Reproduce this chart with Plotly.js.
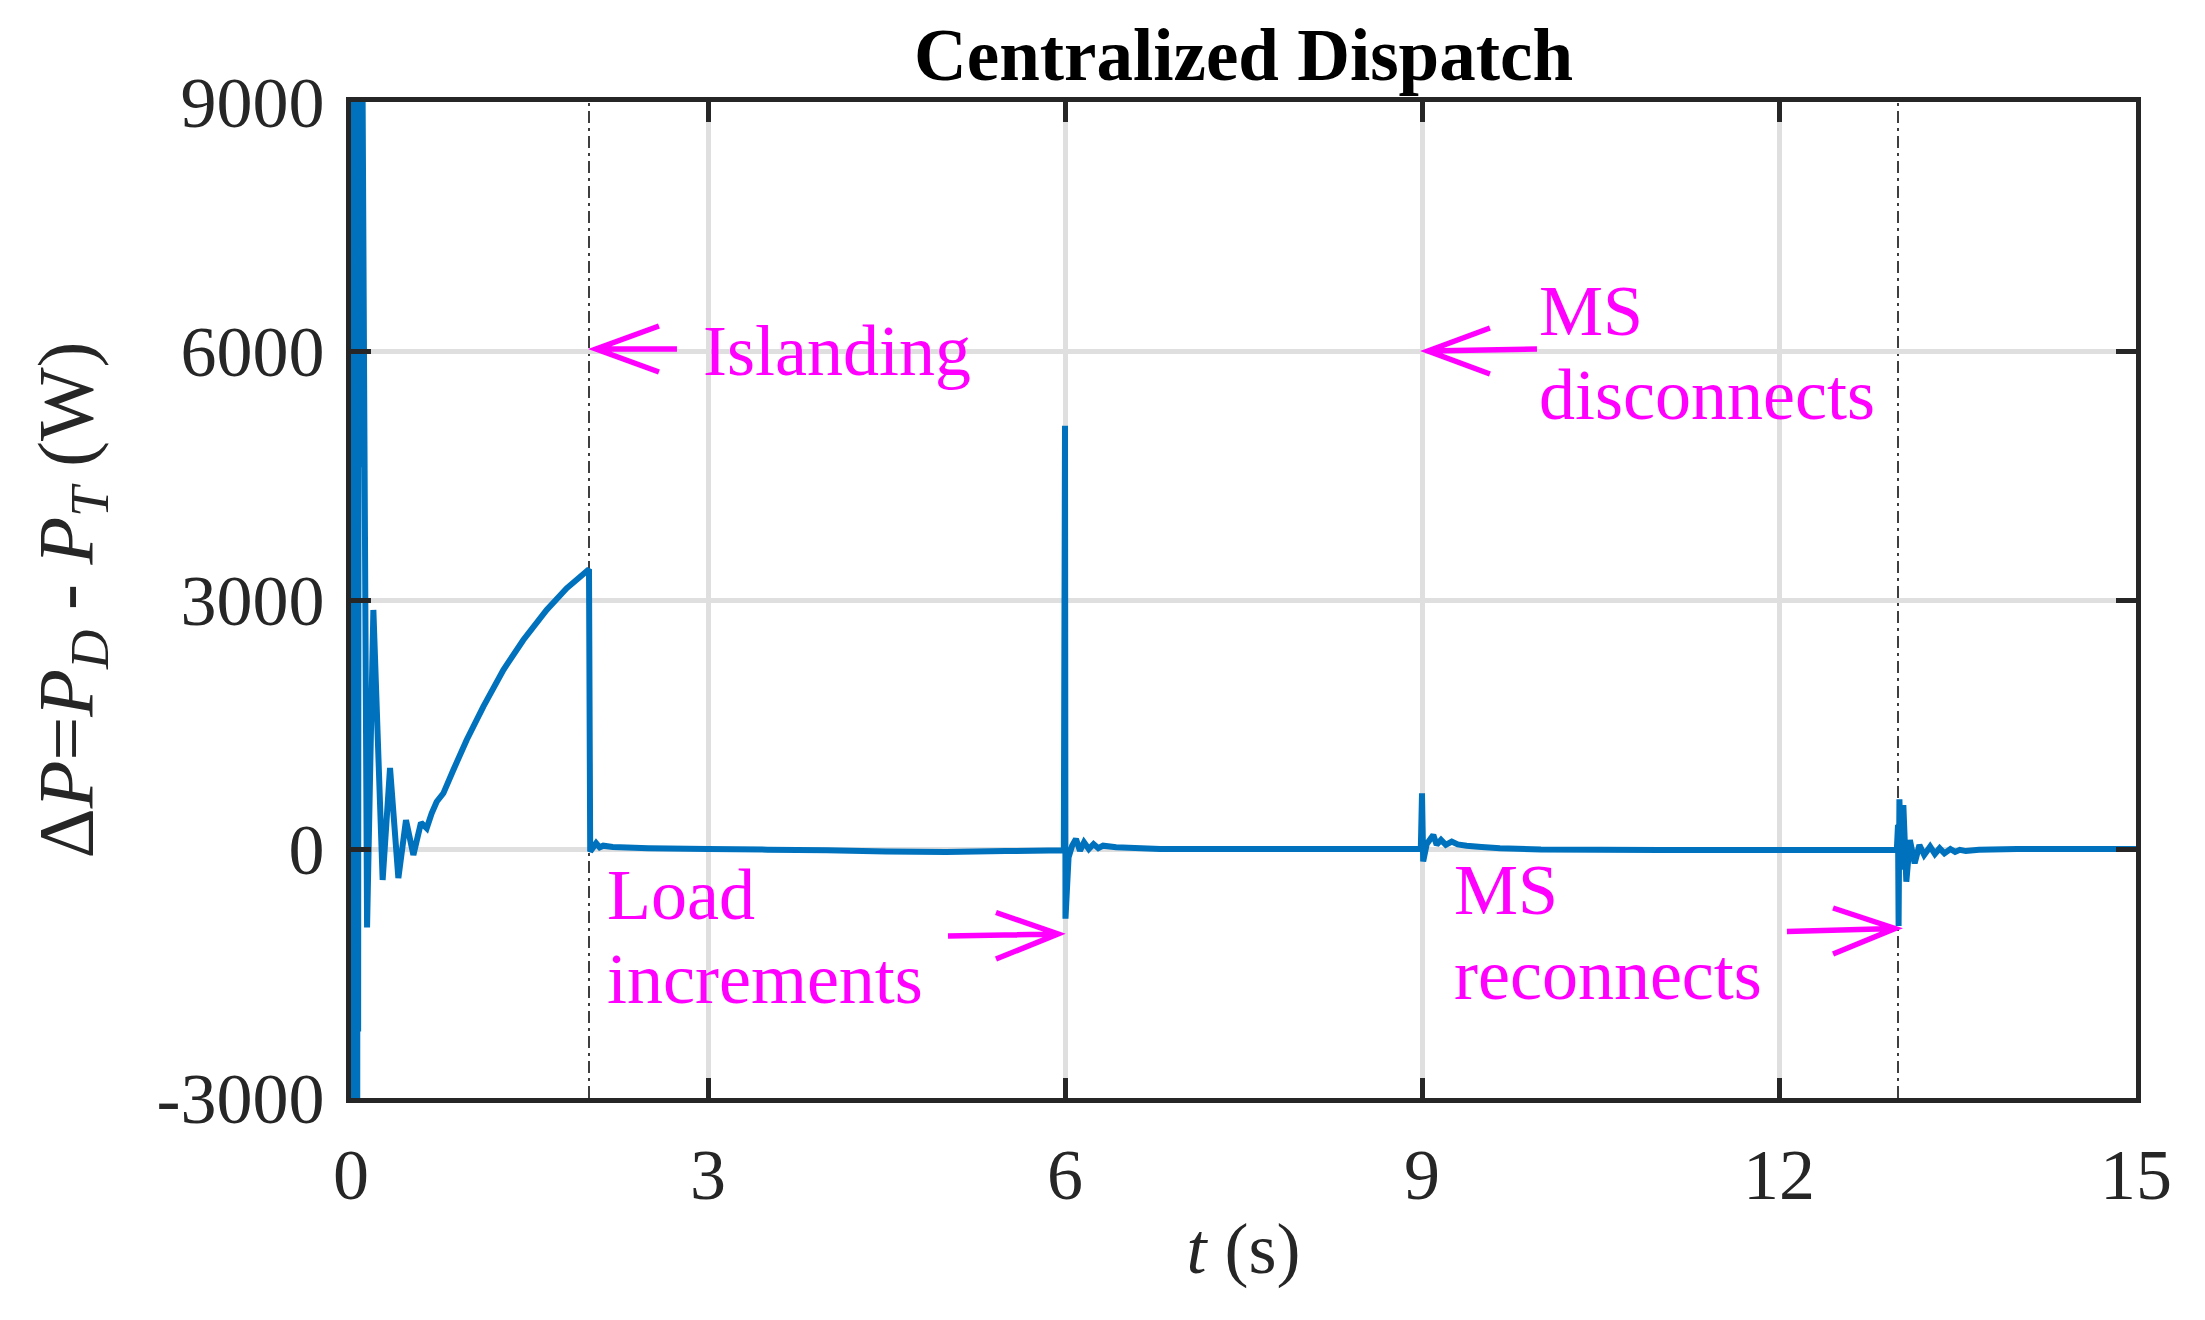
<!DOCTYPE html>
<html>
<head>
<meta charset="utf-8">
<script src="https://cdn.plot.ly/plotly-3.0.1.min.js"></script>
<style>
  html, body { margin: 0; padding: 0; background: #ffffff; }
  #chart { width: 2205px; height: 1320px; }
</style>
</head>
<body>
<div id="chart"></div>
<script>
// ---- data ----
const time = [
  0.000, 0.004, 0.008, 0.012, 0.016, 0.020, 0.024, 0.028, 0.032, 0.036, 0.040, 0.044, 0.048, 0.052,
  0.056, 0.060, 0.066, 0.072, 0.080, 0.086, 0.094,
  0.135, 0.188, 0.266, 0.328, 0.398, 0.462, 0.524, 0.588, 0.636, 0.678, 0.720, 0.776, 0.860,
  0.972, 1.112, 1.280, 1.448, 1.644, 1.812, 2.000,
  2.010, 2.060, 2.090, 2.120, 2.200, 2.500, 3.000, 3.500, 4.000, 4.500, 5.000, 5.500, 5.990,
  6.000, 6.004, 6.030, 6.060, 6.092, 6.126, 6.160, 6.200, 6.240, 6.280, 6.320, 6.430, 6.800, 8.000, 8.990,
  9.000, 9.010, 9.040, 9.095, 9.123, 9.160, 9.200, 9.250, 9.300, 9.375, 9.500, 9.655, 10.000, 11.000, 12.000, 12.990,
  13.000, 13.005, 13.012, 13.025, 13.045, 13.070, 13.100, 13.140, 13.180, 13.220, 13.270, 13.310, 13.350,
  13.390, 13.440, 13.480, 13.520, 13.570, 13.680, 14.000, 15.000
];
const deltaP = [
  0, -9000, 16000, -9000, 16000, -8500, 15500, -8000, 15000, -7500, 14500, -7000, 14000, -6000,
  13000, -2200, 12500, 4600, 12000, 5000, 10000,
  -946, 2880, -373, 976, -350, 349, -72, 317, 250, 430, 570, 671, 952,
  1313, 1715, 2157, 2518, 2880, 3141, 3370,
  -30, 70, 20, 40, 25, 10, 0, -8, -15, -30, -35, -25, -15,
  5100, -840, -100, 40, 120, -20, 80, 0, 60, 10, 40, 20, 0, 0, 0,
  670, -150, 60, 170, 50, 110, 50, 90, 55, 40, 25, 10, -5, -12, -12, -10,
  290, -928, 600, -250, 530, -394, 108, -172, 48, -72, 28, -60, 8,
  -52, 0, -35, -10, -25, -10, 0, 0
];
const xTicks = [0, 3, 6, 9, 12, 15];
const yTicks = [-3000, 0, 3000, 6000, 9000];
const eventTimes = [2, 6, 9, 13];
const labelLines = ['Islanding', 'MS', 'disconnects', 'Load', 'increments', 'MS', 'reconnects'];

// ---- styling / layout ----
const FONT = 'Liberation Serif, Times New Roman, serif';
const AX = '#262626';
const MAGENTA = '#FF00FF';

const trace = {
  x: time, y: deltaP, type: 'scatter', mode: 'lines',
  line: { color: '#0072BD', width: 6, simplify: false },
  hoverinfo: 'skip'
};

const shapes = eventTimes.map(t => ({
  type: 'line', xref: 'x', yref: 'paper', x0: t, x1: t, y0: 0, y1: 1,
  line: { color: '#000000', width: 1.5, dash: '12px,5px,3px,5px' },
  layer: 'between'
}));

// annotation arrows (chevron heads), positions in axis units
const arrowGeom = [
  { tip: [2.059, 6024], tail: [2.739, 6024], w1: [2.588, 6301], w2: [2.588, 5747] },
  { tip: [9.050, 6000], tail: [9.966, 6024], w1: [9.571, 6277], w2: [9.571, 5723] },
  { tip: [5.941, -1024], tail: [5.017, -1048], w1: [5.420, -765], w2: [5.420, -1325] },
  { tip: [12.975, -958], tail: [12.067, -994], w1: [12.454, -711], w2: [12.454, -1265] }
];
arrowGeom.forEach(a => {
  shapes.push({
    type: 'path', xref: 'x', yref: 'y', layer: 'above',
    path: `M ${a.tail[0]},${a.tail[1]} L ${a.tip[0]},${a.tip[1]} M ${a.w1[0]},${a.w1[1]} L ${a.tip[0]},${a.tip[1]} L ${a.w2[0]},${a.w2[1]}`,
    line: { color: MAGENTA, width: 5.5 }
  });
});

const labelPos = [
  [2.941, 6000], [9.966, 6482], [9.966, 5470], [2.134, -554], [2.134, -1566], [9.252, -494], [9.252, -1518]
];
const annotations = labelLines.map((txt, i) => ({
  text: txt, x: labelPos[i][0], y: labelPos[i][1], xref: 'x', yref: 'y',
  xanchor: 'left', yanchor: 'middle', showarrow: false,
  font: { family: FONT, size: 72, color: MAGENTA }
}));

const axisCommon = {
  ticks: 'inside', ticklen: 20, tickwidth: 5, tickcolor: AX,
  showline: true, linewidth: 5, linecolor: AX, mirror: 'ticks',
  showgrid: true, gridcolor: '#dfdfdf', gridwidth: 5, zeroline: false,
  tickfont: { family: FONT, size: 72, color: AX },
  fixedrange: true
};

const layout = {
  width: 2205, height: 1320,
  margin: { l: 351, r: 69, t: 102, b: 222, pad: 0 },
  paper_bgcolor: '#ffffff', plot_bgcolor: '#ffffff',
  showlegend: false,
  title: {
    text: '<b>Centralized Dispatch</b>',
    font: { family: FONT, size: 73, color: '#000000' },
    x: 0.5, xref: 'paper', xanchor: 'center',
    y: 1 - 54 / 1320, yref: 'container', yanchor: 'middle'
  },
  xaxis: Object.assign({}, axisCommon, {
    range: [0, 15], tickvals: xTicks, ticktext: xTicks.map(String),
    ticklabelstandoff: 10,
    title: { text: '<i>t</i> (s)', font: { family: FONT, size: 72, color: AX }, standoff: 10 }
  }),
  yaxis: Object.assign({}, axisCommon, {
    range: [-3000, 9000], tickvals: yTicks, ticktext: yTicks.map(String),
    ticklabelstandoff: 7,
    title: {
      text: 'Δ<i>P</i>=<i>P</i><sub><i>D</i></sub> - <i>P</i><sub><i>T</i></sub> (W)',
      font: { family: FONT, size: 78, color: AX }, standoff: 40
    }
  }),
  shapes: shapes,
  annotations: annotations
};

Plotly.newPlot('chart', [trace], layout, { staticPlot: true, displayModeBar: false });
</script>
</body>
</html>
